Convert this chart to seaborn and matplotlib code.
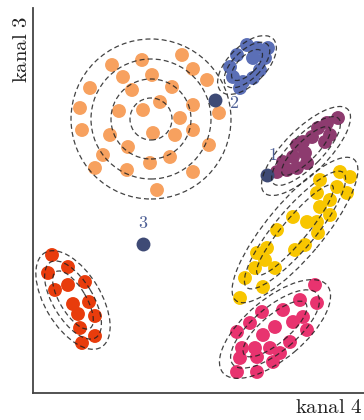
import numpy as np
import pandas as pd
import matplotlib
matplotlib.use("Agg")
import matplotlib.pyplot as plt
from matplotlib.patches import Ellipse
import seaborn as sns

# --- cluster members (kanal 4, kanal 3) ---
orange_x = [149, 79, 109, 160, 90, 119, 174, 57, 99, 139, 127, 160, 47, 86, 110, 147, 186,
            49, 160, 77, 120, 142, 95, 176, 70, 137, 117, 62, 94, 160, 124]
orange_y = [338, 328, 333, 324, 316, 318, 313, 305, 303, 306, 291, 288, 285, 282, 283, 275, 280,
            263, 263, 258, 260, 258, 246, 248, 238, 236, 230, 225, 223, 221, 203]

blue_x = [214, 224, 232, 204, 197, 227, 200, 210, 220, 220, 207, 235]
blue_y = [348, 345, 335, 338, 326, 323, 316, 311, 315, 335, 305, 345]

purple_x = [305, 294, 285, 297, 292, 279, 270, 264, 272, 260, 274, 250, 264, 254, 244]
purple_y = [275, 270, 265, 258, 251, 256, 251, 248, 240, 236, 230, 231, 225, 223, 221]

yellow_x = [307, 317, 287, 304, 314, 284, 297, 287, 297, 260, 274, 284, 244, 285, 272, 262,
            234, 224, 232, 242, 222, 212, 230, 207]
yellow_y = [221, 216, 213, 206, 200, 200, 193, 186, 178, 176, 171, 171, 163, 160, 148, 143,
            145, 140, 133, 125, 125, 115, 106, 95]

pink_x = [282, 267, 284, 250, 229, 270, 260, 217, 242, 274, 204, 230, 257, 209, 222, 237,
          247, 207, 224, 240, 204, 224]
pink_y = [108, 93, 90, 83, 81, 76, 71, 70, 66, 63, 61, 58, 51, 45, 45, 45,
          40, 35, 36, 31, 21, 21]

red_x = [19, 15, 35, 52, 35, 22, 40, 56, 45, 62, 47, 62, 49]
red_y = [138, 120, 126, 111, 108, 103, 89, 91, 79, 77, 65, 57, 50]

# --- unassigned samples and their tags ---
outlier_x = [234, 182, 110]
outlier_y = [218, 293, 149]
outlier_tags = ["1", "2", "3"]

# --- contour ellipses per cluster: centre, angle (deg), full axes per level ---
ell_cx = [118, 214, 273, 262, 242, 40]
ell_cy = [274, 328, 242, 163, 64, 93]
ell_angle = [0, 45, 45, 50, 40, 121]
ell_axes = [
    [(42, 42), (80, 80), (120, 120), (160, 160)],
    [(40, 18), (58, 28), (74, 38)],
    [(66, 20), (92, 32), (118, 44)],
    [(116, 24), (150, 40), (184, 56)],
    [(80, 28), (110, 44), (136, 60)],
    [(66, 26), (88, 40), (110, 56)],
]

palette = {
    "A": "#f7a15f",
    "B": "#5b6fb6",
    "C": "#8d3b6f",
    "D": "#f8c600",
    "E": "#e8336f",
    "F": "#e83c0c",
}

groups = [("A", orange_x, orange_y), ("B", blue_x, blue_y), ("C", purple_x, purple_y),
          ("D", yellow_x, yellow_y), ("E", pink_x, pink_y), ("F", red_x, red_y)]
df = pd.concat([pd.DataFrame({"x": gx, "y": gy, "cluster": name}) for name, gx, gy in groups],
               ignore_index=True)
out = pd.DataFrame({"x": outlier_x, "y": outlier_y, "tag": outlier_tags})

sns.set_style("white")
plt.rcParams["mathtext.fontset"] = "cm"

fig = plt.figure(figsize=(3.64, 4.20), dpi=100)
ax = fig.add_axes([33 / 364, 27 / 420, 331 / 364, 385 / 420])

sns.scatterplot(data=df, x="x", y="y", hue="cluster", palette=palette, s=100,
                linewidth=0, alpha=1.0, legend=False, ax=ax, zorder=2)
sns.scatterplot(data=out, x="x", y="y", color="#3e4a75", s=100, linewidth=0,
                legend=False, ax=ax, zorder=2)

for cx, cy, ang, axes_list in zip(ell_cx, ell_cy, ell_angle, ell_axes):
    for w, h in axes_list:
        e = Ellipse((cx, cy), w, h, angle=ang, fill=False, edgecolor="#222222",
                    linewidth=0.9, linestyle=(0, (4, 2.5)), zorder=3, alpha=0.85)
        ax.add_patch(e)

for x, y, t in zip(out["x"], out["y"], out["tag"]):
    dx, dy = {"1": (6, 20), "2": (19, -3), "3": (0, 21)}[t]
    ax.text(x + dx, y + dy, rf"$\mathrm{{{t}}}$", color="#4d5f95", fontsize=13,
            ha="center", va="center", zorder=4)

ax.set_xlim(0, 331)
ax.set_ylim(0, 385)
ax.set_xticks([])
ax.set_yticks([])
ax.set_xlabel("")
ax.set_ylabel("")
for side in ["top", "right"]:
    ax.spines[side].set_visible(False)
for side in ["left", "bottom"]:
    ax.spines[side].set_color("#444444")
    ax.spines[side].set_linewidth(1.3)

fig.text(362 / 364, 1 - 407 / 420, r"$\mathrm{kanal\ 4}$", ha="right", va="center",
         fontsize=15, color="#222222")
fig.text(21 / 364, 1 - 16 / 420, r"$\mathrm{kanal\ 3}$", ha="center", va="top",
         rotation=90, fontsize=15, color="#222222")

fig.savefig("out.png", dpi=100)
